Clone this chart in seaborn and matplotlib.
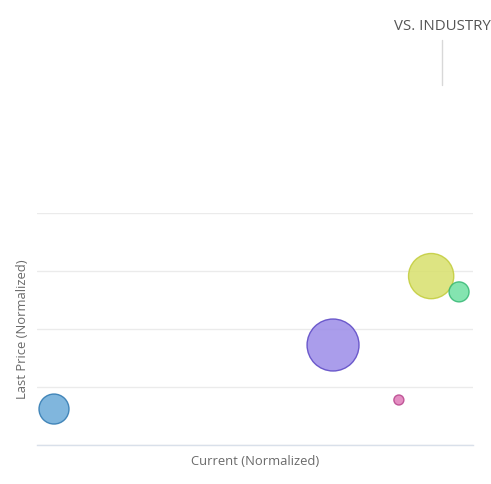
import pandas as pd
import matplotlib.pyplot as plt
import seaborn as sns
import numpy as np

# Bubble data (normalized values)
companies = ['A', 'B', 'C', 'D', 'E']
current_norm = [0.039, 0.679, 0.904, 0.968, 0.830]
price_norm = [0.155, 0.431, 0.728, 0.660, 0.194]
bubble_size = [467, 1401, 1060, 207, 52]
fill_colors = ['#6aaad8', '#9b8ce8', '#d8e06c', '#6fe0a2', '#e07ab8']
edge_colors = ['#2e78b0', '#5a46c4', '#c2cc3a', '#36b874', '#b8458c']

data = pd.DataFrame({'company': companies, 'current': current_norm,
                     'price': price_norm, 'size': bubble_size})

sns.set_style('white')
plt.rcParams['font.family'] = ['Open Sans', 'DejaVu Sans']

fig = plt.figure(figsize=(4.91, 4.84), dpi=100)
ax = fig.add_axes([37 / 491, 1 - 445 / 484, 436 / 491, 232 / 484])

sns.scatterplot(data=data, x='current', y='price', hue='company', size='size',
                sizes=(min(bubble_size), max(bubble_size)),
                size_norm=(min(bubble_size), max(bubble_size)),
                palette=dict(zip(companies, fill_colors)), alpha=0.85,
                legend=False, ax=ax, clip_on=False, zorder=3)
ax.collections[0].set_edgecolors([edge_colors[companies.index(c)] for c in data['company']])
ax.collections[0].set_linewidths(1.0)

ax.set_xlim(0, 1)
ax.set_ylim(0, 1)
ax.set_yticks([0, 0.25, 0.5, 0.75, 1.0])
ax.set_xticks([])
ax.yaxis.grid(True, color='#ebebeb', linewidth=1)
ax.tick_params(left=False, labelleft=False)
for side in ['top', 'right', 'left']:
    ax.spines[side].set_visible(False)
ax.spines['bottom'].set_color('#d9e0ea')
ax.spines['bottom'].set_linewidth(1)

ax.set_xlabel('Current (Normalized)', color='#6a6a6a', fontsize=9.4, labelpad=7)
ax.set_ylabel('Last Price (Normalized)', color='#6a6a6a', fontsize=9.4, labelpad=6)

fig.text(442 / 491, 1 - 26 / 484, 'VS. INDUSTRY', ha='center', va='center',
         color='#555555', fontsize=10.8)
fig.add_artist(plt.Line2D([442 / 491, 442 / 491], [1 - 40 / 484, 1 - 85 / 484],
                          color='#d8d8d8', linewidth=1))

plt.savefig('out.png', dpi=100)
plt.close()
